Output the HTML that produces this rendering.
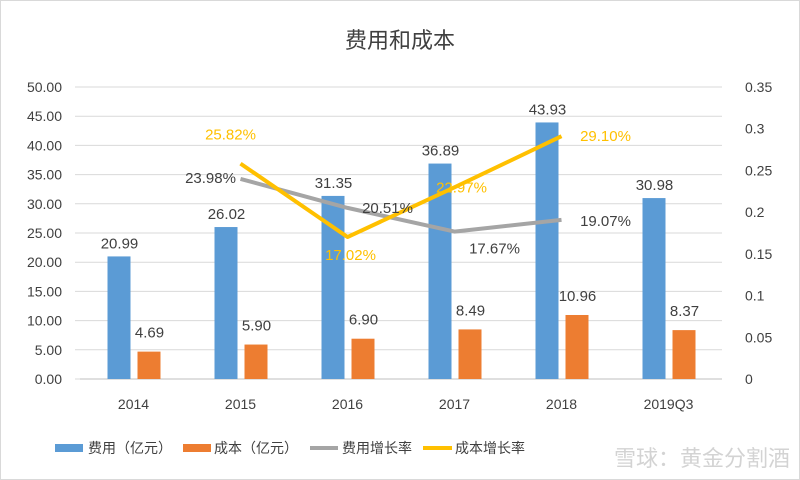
<!DOCTYPE html>
<html><head><meta charset="utf-8"><style>
body{margin:0;background:#fff}
svg{display:block;font-family:"Liberation Sans","Noto Sans CJK SC",sans-serif}
</style></head><body>
<svg id="c" width="800" height="480" xmlns="http://www.w3.org/2000/svg">
<rect x="0.5" y="0.5" width="799" height="479" fill="#fff" stroke="#d9d9d9"/>
<text x="400" y="48" font-size="22" text-anchor="middle" fill="#404040">费用和成本</text>
<g id="grid"></g><g id="marks"></g><g id="labels"></g>
<g>
<rect x="55" y="444" width="28" height="8" fill="#5B9BD5"/>
<text x="88" y="453" font-size="14" fill="#404040">费用（亿元）</text>
<rect x="183" y="444" width="28" height="8" fill="#ED7D31"/>
<text x="214" y="453" font-size="14" fill="#404040">成本（亿元）</text>
<line x1="310" y1="448" x2="338" y2="448" stroke="#A5A5A5" stroke-width="4"/>
<text x="342" y="453" font-size="14" fill="#404040">费用增长率</text>
<line x1="423" y1="448" x2="452" y2="448" stroke="#FFC000" stroke-width="4"/>
<text x="455" y="453" font-size="14" fill="#404040">成本增长率</text>
</g>
<text x="790" y="466" font-size="22" text-anchor="end" fill="#c8c8c8" fill-opacity="0.8">雪球：黄金分割酒</text>
</svg>
<script>
const categories=["2014","2015","2016","2017","2018","2019Q3"];
const expense=[20.99,26.02,31.35,36.89,43.93,30.98];
const cost=[4.69,5.90,6.90,8.49,10.96,8.37];
const expenseGrowth=[null,0.2398,0.2051,0.1767,0.1907,null];
const costGrowth=[null,0.2582,0.1702,0.2297,0.2910,null];
const leftTicks=[0,5,10,15,20,25,30,35,40,45,50];
const rightTicks=[0,0.05,0.1,0.15,0.2,0.25,0.3,0.35];
const NS="http://www.w3.org/2000/svg";
const X0=80,X1=722,Y0=379,Y1=87;
const band=(X1-X0)/categories.length;
const xc=i=>X0+band*(i+0.5);
const yl=v=>Y0-(v/50)*(Y0-Y1);
const yr=v=>Y0-(v/0.35)*(Y0-Y1);
function mk(t,a,p){const e=document.createElementNS(NS,t);for(const k in a)e.setAttribute(k,a[k]);p.appendChild(e);return e;}
const grid=document.getElementById('grid'),marks=document.getElementById('marks'),labels=document.getElementById('labels');
leftTicks.forEach(v=>{const g=mk('line',{x1:X0-5,x2:X1,y1:yl(v),y2:yl(v),stroke:'#d9d9d9'},grid);


const t=mk('text',{x:62,y:yl(v)+5,'font-size':14,'text-anchor':'end',fill:'#404040'},grid);t.textContent=v.toFixed(2);

});
rightTicks.forEach(v=>{const t=mk('text',{x:745,y:yr(v)+5,'font-size':14,fill:'#404040'},grid);t.textContent=String(v);

});
categories.forEach((c,i)=>{const t=mk('text',{x:xc(i),y:409,'font-size':14,'text-anchor':'middle',fill:'#404040'},grid);t.textContent=c;


const b=mk('rect',{x:xc(i)-26,y:yl(expense[i]),width:23,height:Y0-yl(expense[i]),fill:'#5B9BD5'},marks);


const o=mk('rect',{x:xc(i)+4,y:yl(cost[i]),width:23,height:Y0-yl(cost[i]),fill:'#ED7D31'},marks);


const l1=mk('text',{x:xc(i)-14,y:yl(expense[i])-8,'font-size':15,'text-anchor':'middle',fill:'#404040'},labels);l1.textContent=expense[i].toFixed(2);


const l2=mk('text',{x:xc(i)+16,y:yl(cost[i])-14,'font-size':15,'text-anchor':'middle',fill:'#404040'},labels);l2.textContent=cost[i].toFixed(2);

});
mk('line',{x1:X0,x2:X1,y1:Y0,y2:Y0,stroke:'#bfbfbf'},grid);
function line(data,color,name,dy){const pts=[];data.forEach((v,i)=>{if(v!==null)pts.push([xc(i),yr(v),v]);});
const p=mk('polyline',{points:pts.map(q=>q[0]+','+q[1]).join(' '),fill:'none',stroke:color,'stroke-width':4,'stroke-linejoin':'round'},marks);


pts.forEach((q,k)=>{const t=mk('text',{x:q[0]+dy[k][0],y:q[1]+dy[k][1],'font-size':15,'text-anchor':'middle',fill:color==='#A5A5A5'?'#404040':color},labels);t.textContent=(q[2]*100).toFixed(2)+'%';

});}
line(expenseGrowth,'#A5A5A5','line-expense-growth',[[-30,4],[40,5],[40,22],[44,6]]);
line(costGrowth,'#FFC000','line-cost-growth',[[-10,-24],[3,23],[7,5],[44,5]]);
</script>
</body></html>
